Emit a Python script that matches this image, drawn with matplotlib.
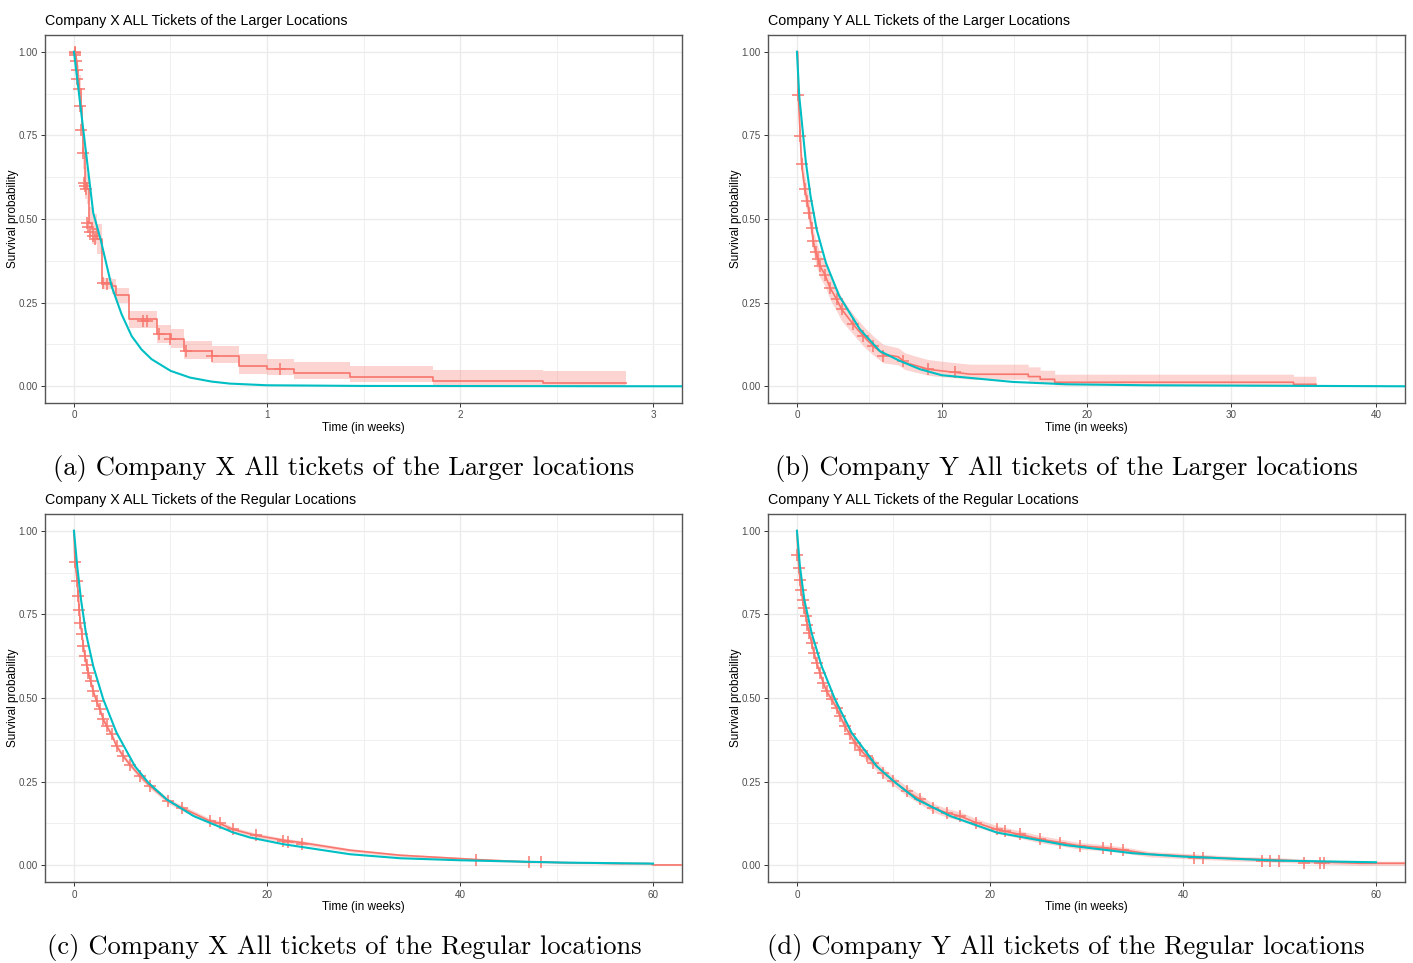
import matplotlib
matplotlib.use("Agg")
import matplotlib.pyplot as plt
from matplotlib.ticker import FixedLocator

# ---------------- data ----------------
# (a) Company X, larger locations  -- Kaplan-Meier steps
a_km_t = [0, 0.005, 0.010, 0.015, 0.020, 0.026, 0.035, 0.040, 0.048, 0.057, 0.069, 0.080, 0.095, 0.117,
          0.143, 0.195, 0.218, 0.287, 0.432, 0.501, 0.570, 0.713, 0.857, 1.00, 1.14, 1.43, 1.86, 2.43, 2.86]
a_km_s = [1.0, 0.99, 0.971, 0.946, 0.918, 0.888, 0.837, 0.767, 0.696, 0.608, 0.59, 0.489, 0.47, 0.44,
          0.309, 0.299, 0.273, 0.200, 0.155, 0.140, 0.105, 0.090, 0.061, 0.051, 0.041, 0.028, 0.015, 0.010, 0.010]
a_up = [1.0, 1.0, 1.0, 0.98, 0.96, 0.93, 0.88, 0.81, 0.74, 0.655, 0.635, 0.535, 0.515, 0.485,
        0.325, 0.322, 0.295, 0.225, 0.182, 0.170, 0.135, 0.120, 0.096, 0.082, 0.072, 0.061, 0.048, 0.045, 0.045]
a_lo = [1.0, 0.97, 0.94, 0.91, 0.875, 0.845, 0.79, 0.72, 0.65, 0.56, 0.545, 0.445, 0.425, 0.395,
        0.29, 0.277, 0.25, 0.175, 0.13, 0.115, 0.082, 0.07, 0.036, 0.033, 0.022, 0.012, 0.004, 0.002, 0.002]
a_cens_t = [0.003, 0.006, 0.008, 0.012, 0.015, 0.018, 0.025, 0.033, 0.038, 0.045, 0.05, 0.055, 0.06,
            0.065, 0.072, 0.085, 0.10, 0.11, 0.15, 0.17, 0.36, 0.38, 0.44, 0.50, 0.58, 0.713, 1.07]
a_cens_s = [1.0, 0.995, 0.99, 0.971, 0.946, 0.918, 0.888, 0.837, 0.767, 0.696, 0.608, 0.60, 0.59,
            0.489, 0.475, 0.46, 0.45, 0.44, 0.309, 0.305, 0.195, 0.195, 0.155, 0.14, 0.105, 0.09, 0.051]
a_fit_t = [0, 0.100, 0.138, 0.195, 0.247, 0.299, 0.35, 0.402, 0.501, 0.601, 0.713, 0.808, 1.0, 1.5, 3.15]
a_fit_s = [1.0, 0.518, 0.439, 0.299, 0.215, 0.150, 0.11, 0.081, 0.046, 0.026, 0.014, 0.008, 0.003, 0.001, 0.0]

# (b) Company Y, larger locations
b_km_t = [0, 0.05, 0.09, 0.23, 0.32, 0.55, 0.71, 0.85, 1.01, 1.13, 1.29, 1.47, 1.59, 1.93, 2.28, 2.74,
          3.09, 3.89, 4.58, 5.27, 5.96, 7.0, 7.46, 8.2, 9.07, 9.6, 11.03, 12.0, 15.98, 15.98, 16.8, 16.8,
          17.8, 17.8, 34.3, 34.3, 35.85]
b_km_s = [1.0, 1.0, 0.872, 0.747, 0.663, 0.590, 0.553, 0.518, 0.474, 0.434, 0.401, 0.379, 0.359, 0.334,
          0.295, 0.260, 0.230, 0.185, 0.150, 0.120, 0.096, 0.088, 0.071, 0.062, 0.051, 0.048, 0.041, 0.036,
          0.036, 0.029, 0.029, 0.021, 0.021, 0.012, 0.012, 0.006, 0.006]
b_up = [1.0, 1.0, 0.90, 0.78, 0.70, 0.63, 0.59, 0.555, 0.51, 0.47, 0.44, 0.415, 0.395, 0.37, 0.33, 0.295,
        0.265, 0.215, 0.18, 0.15, 0.125, 0.115, 0.10, 0.09, 0.08, 0.077, 0.07, 0.066, 0.066, 0.058, 0.058,
        0.048, 0.048, 0.036, 0.036, 0.03, 0.03]
b_lo = [1.0, 1.0, 0.84, 0.71, 0.625, 0.55, 0.515, 0.48, 0.44, 0.40, 0.365, 0.345, 0.325, 0.30, 0.26, 0.225,
        0.195, 0.155, 0.12, 0.093, 0.07, 0.064, 0.05, 0.042, 0.033, 0.030, 0.025, 0.021, 0.021, 0.015, 0.015,
        0.009, 0.009, 0.004, 0.004, 0.001, 0.001]
b_cens_t = [0.09, 0.23, 0.32, 0.55, 0.71, 0.85, 1.01, 1.13, 1.29, 1.47, 1.59, 1.93, 2.28, 2.74, 3.09,
            3.89, 4.58, 5.27, 5.96, 7.35, 9.07, 10.9]
b_cens_s = [0.872, 0.747, 0.663, 0.590, 0.553, 0.518, 0.474, 0.434, 0.401, 0.379, 0.359, 0.334, 0.295,
            0.260, 0.230, 0.185, 0.150, 0.120, 0.090, 0.075, 0.053, 0.043]
b_fit_t = [0, 0.16, 0.39, 0.62, 0.94, 1.36, 2.0, 2.92, 4.35, 5.73, 7.1, 8.5, 10.0, 14.9, 18.6, 24.2, 42.0]
b_fit_s = [1.0, 0.867, 0.767, 0.668, 0.568, 0.469, 0.369, 0.27, 0.170, 0.105, 0.076, 0.051, 0.033,
           0.013, 0.006, 0.003, 0.0]

# (c) Company X, regular locations
c_km_t = [0, 0.1, 0.34, 0.45, 0.55, 0.66, 0.83, 0.97, 1.14, 1.31, 1.49, 1.73, 2.0, 2.35, 2.69, 3.04, 3.39,
          3.9, 4.42, 5.11, 5.8, 6.84, 7.88, 9.77, 11.16, 14.1, 15.1, 16.5, 18.9, 21.7, 23.5, 28.6, 33.8,
          40.0, 41.7, 47.1, 48.4, 50.7, 56.6, 59.7, 60.0, 63.0]
c_km_s = [1.0, 0.908, 0.849, 0.804, 0.764, 0.724, 0.690, 0.655, 0.625, 0.600, 0.575, 0.550, 0.520, 0.490,
          0.466, 0.436, 0.416, 0.391, 0.356, 0.326, 0.301, 0.267, 0.237, 0.192, 0.172, 0.132, 0.125, 0.107,
          0.089, 0.075, 0.068, 0.045, 0.030, 0.020, 0.017, 0.010, 0.010, 0.008, 0.005, 0.005, 0.001, 0.001]
c_half = [0.0, 0.006, 0.007, 0.007, 0.008, 0.008, 0.008, 0.008, 0.008, 0.008, 0.008, 0.008, 0.008, 0.008,
          0.008, 0.008, 0.008, 0.008, 0.008, 0.008, 0.008, 0.008, 0.008, 0.008, 0.008, 0.008, 0.008, 0.007,
          0.007, 0.006, 0.006, 0.005, 0.004, 0.004, 0.004, 0.003, 0.003, 0.003, 0.002, 0.002, 0.001, 0.001]
c_cens_t = [0.1, 0.34, 0.45, 0.55, 0.66, 0.83, 0.97, 1.14, 1.31, 1.49, 1.73, 2.0, 2.35, 2.69, 3.04, 3.39,
            3.9, 4.42, 5.11, 5.8, 6.84, 7.88, 9.77, 11.16, 14.1, 15.1, 16.5, 18.9, 21.7, 22.2, 23.6, 41.7,
            47.1, 48.4]
c_cens_s = [0.908, 0.849, 0.804, 0.764, 0.724, 0.690, 0.655, 0.625, 0.600, 0.575, 0.550, 0.520, 0.490,
            0.466, 0.436, 0.416, 0.391, 0.356, 0.326, 0.301, 0.267, 0.237, 0.192, 0.172, 0.132, 0.125,
            0.107, 0.089, 0.073, 0.070, 0.065, 0.017, 0.010, 0.010]
c_fit_t = [0, 0.34, 0.73, 1.24, 2.0, 3.04, 4.42, 6.32, 7.7, 9.6, 12.4, 16.5, 18.24, 21.7, 28.6, 33.8,
           40.0, 50.7, 60.0]
c_fit_s = [1.0, 0.893, 0.794, 0.694, 0.595, 0.496, 0.396, 0.296, 0.247, 0.197, 0.147, 0.098, 0.083,
           0.063, 0.033, 0.021, 0.015, 0.008, 0.005]

# (d) Company Y, regular locations
d_km_t = [0, 0.1, 0.21, 0.31, 0.41, 0.59, 0.73, 0.93, 1.07, 1.28, 1.52, 1.76, 2.04, 2.38, 2.73, 3.07, 3.6,
          4.1, 4.46, 4.97, 5.49, 6.01, 6.53, 7.22, 7.91, 8.94, 9.98, 11.37, 12.75, 14.1, 15.5, 16.9, 18.6,
          20.7, 23.1, 25.2, 27.3, 29.3, 31.7, 33.8, 36.6, 40.0, 45.2, 49.7, 54.2, 58.3, 63.0]
d_km_s = [1.0, 0.928, 0.889, 0.854, 0.824, 0.794, 0.769, 0.744, 0.719, 0.694, 0.665, 0.635, 0.605, 0.575,
          0.545, 0.520, 0.496, 0.471, 0.446, 0.416, 0.391, 0.366, 0.346, 0.326, 0.307, 0.277, 0.252, 0.222,
          0.197, 0.172, 0.157, 0.147, 0.127, 0.107, 0.092, 0.078, 0.068, 0.058, 0.053, 0.046, 0.033, 0.028,
          0.020, 0.016, 0.010, 0.006, 0.006]
d_half = [0.0, 0.005, 0.006, 0.007, 0.007, 0.008, 0.008, 0.009, 0.009, 0.010, 0.010, 0.010, 0.011, 0.011,
          0.011, 0.012, 0.012, 0.012, 0.012, 0.013, 0.013, 0.013, 0.013, 0.014, 0.014, 0.014, 0.014, 0.014,
          0.014, 0.013, 0.013, 0.013, 0.012, 0.012, 0.011, 0.011, 0.010, 0.010, 0.009, 0.009, 0.008, 0.008,
          0.007, 0.007, 0.006, 0.006, 0.006]
d_cens_t = [0.0, 0.21, 0.31, 0.41, 0.59, 0.73, 0.93, 1.07, 1.28, 1.52, 1.76, 2.04, 2.38, 2.73, 3.07, 3.6,
            4.1, 4.46, 4.97, 5.49, 6.01, 6.53, 7.22, 7.91, 8.94, 9.98, 11.37, 12.75, 14.1, 15.5, 16.9, 18.6,
            20.7, 21.6, 23.1, 25.2, 27.3, 29.3, 31.7, 32.5, 33.8, 41.1, 42.1, 48.2, 49.0, 49.9, 52.5, 54.2,
            54.6]
d_cens_s = [0.928, 0.889, 0.854, 0.824, 0.794, 0.769, 0.744, 0.719, 0.694, 0.665, 0.635, 0.605, 0.575,
            0.545, 0.520, 0.496, 0.471, 0.446, 0.416, 0.391, 0.366, 0.346, 0.326, 0.307, 0.277, 0.252,
            0.222, 0.197, 0.172, 0.157, 0.147, 0.127, 0.107, 0.102, 0.092, 0.078, 0.068, 0.058, 0.053,
            0.050, 0.046, 0.023, 0.023, 0.013, 0.013, 0.013, 0.006, 0.006, 0.008]
d_fit_t = [0, 0.31, 0.76, 1.52, 2.56, 3.94, 5.67, 8.26, 10.2, 12.4, 15.9, 20.7, 27.9, 34.8, 40.0, 49.7, 60.0]
d_fit_s = [1.0, 0.893, 0.794, 0.694, 0.595, 0.496, 0.396, 0.296, 0.247, 0.197, 0.147, 0.098, 0.060,
           0.036, 0.026, 0.014, 0.009]

titles = ["Company X ALL Tickets of the Larger Locations", "Company Y ALL Tickets of the Larger Locations",
          "Company X ALL Tickets of the Regular Locations", "Company Y ALL Tickets of the Regular Locations"]
captions = ["(a) Company X All tickets of the Larger locations", "(b) Company Y All tickets of the Larger locations",
            "(c) Company X All tickets of the Regular locations", "(d) Company Y All tickets of the Regular locations"]
y_ticks = [0.0, 0.25, 0.5, 0.75, 1.0]
y_labels = ["0.00", "0.25", "0.50", "0.75", "1.00"]
x_ticks_a = [0, 1, 2, 3]
x_ticks_b = [0, 10, 20, 30, 40]
x_ticks_cd = [0, 20, 40, 60]

# ---------------- drawing ----------------
RED = "#F8766D"
TEAL = "#00BFC4"
W, H = 1413, 963
SANS = "Liberation Sans"

fig = plt.figure(figsize=(W / 100, H / 100), dpi=100)


def px_rect(x0, y0, x1, y1):
    return [x0 / W, 1 - y1 / H, (x1 - x0) / W, (y1 - y0) / H]


def panel(box, title, caption, cap_xy, xticks, xminor, xlim,
          km_t, km_s, lo, up, cens_t, cens_s, fit_t, fit_s, steps):
    x0, y0, x1, y1 = box
    aw, ah = x1 - x0, y1 - y0
    ax = fig.add_axes(px_rect(x0, y0, x1, y1))
    ax.set_xlim(*xlim)
    ax.set_ylim(-0.05, 1.05)
    ax.xaxis.set_major_locator(FixedLocator(xticks))
    ax.xaxis.set_minor_locator(FixedLocator(xminor))
    ax.yaxis.set_major_locator(FixedLocator(y_ticks))
    ax.yaxis.set_minor_locator(FixedLocator([0.125, 0.375, 0.625, 0.875]))
    ax.set_yticklabels(y_labels)
    ax.set_xticklabels([str(v) for v in xticks])
    ax.grid(True, which="major", color="#EBEBEB", lw=1.0, zorder=0)
    ax.grid(True, which="minor", color="#F0F0F0", lw=0.7, zorder=0)
    ax.set_axisbelow(True)
    ax.tick_params(which="major", length=3.2, width=0.7, color="#333333",
                   labelsize=7.1, labelcolor="#4D4D4D", pad=2.2)
    ax.tick_params(which="minor", length=0)
    for lab in ax.get_xticklabels() + ax.get_yticklabels():
        lab.set_family(SANS)
    for sp in ax.spines.values():
        sp.set_color("#555555")
        sp.set_linewidth(1.0)
    step = "post" if steps else None
    ax.fill_between(km_t, lo, up, step=step, color=RED, alpha=0.3, lw=0, zorder=2)
    if steps:
        ax.step(km_t, km_s, where="post", color=RED, lw=1.2, zorder=3)
    else:
        ax.plot(km_t, km_s, color=RED, lw=1.2, zorder=3)
    ax.plot(cens_t, cens_s, ls="none", marker="+", ms=8, mew=1.2, color=RED, alpha=0.9, zorder=3)
    ax.plot(fit_t, fit_s, color=TEAL, lw=1.5, zorder=4)
    ax.set_xlabel("Time (in weeks)", family=SANS, fontsize=8.5, color="black")
    ax.set_ylabel("Survival probability", family=SANS, fontsize=8.5, color="black")
    ax.xaxis.set_label_coords(0.5, -19 / ah)
    ax.yaxis.set_label_coords(-26 / aw, 0.5)
    fig.text(x0 / W, 1 - (y0 - 14) / H, title, family=SANS, fontsize=10.3, ha="left", va="center")
    fig.text(cap_xy[0] / W, 1 - cap_xy[1] / H, caption, family="cmr10", fontsize=19.1,
             ha="center", va="center")
    return ax


panel((45, 35, 682, 403), titles[0], captions[0], (343.5, 468), x_ticks_a, [0.5, 1.5, 2.5], (-0.15, 3.15),
      a_km_t, a_km_s, a_lo, a_up, a_cens_t, a_cens_s, a_fit_t, a_fit_s, True)
panel((768, 35, 1405, 403), titles[1], captions[1], (1066, 468), x_ticks_b, [5, 15, 25, 35], (-2.0, 42.0),
      b_km_t, b_km_s, b_lo, b_up, b_cens_t, b_cens_s, b_fit_t, b_fit_s, False)
c_lo = [s - h for s, h in zip(c_km_s, c_half)]
c_up = [s + h for s, h in zip(c_km_s, c_half)]
panel((45, 514, 682, 882), titles[2], captions[2], (344, 947), x_ticks_cd, [10, 30, 50], (-3.0, 63.0),
      c_km_t, c_km_s, c_lo, c_up, c_cens_t, c_cens_s, c_fit_t, c_fit_s, False)
d_lo = [s - h for s, h in zip(d_km_s, d_half)]
d_up = [s + h for s, h in zip(d_km_s, d_half)]
panel((768, 514, 1405, 882), titles[3], captions[3], (1066, 947), x_ticks_cd, [10, 30, 50], (-3.0, 63.0),
      d_km_t, d_km_s, d_lo, d_up, d_cens_t, d_cens_s, d_fit_t, d_fit_s, False)

fig.savefig("out.png", dpi=100)
